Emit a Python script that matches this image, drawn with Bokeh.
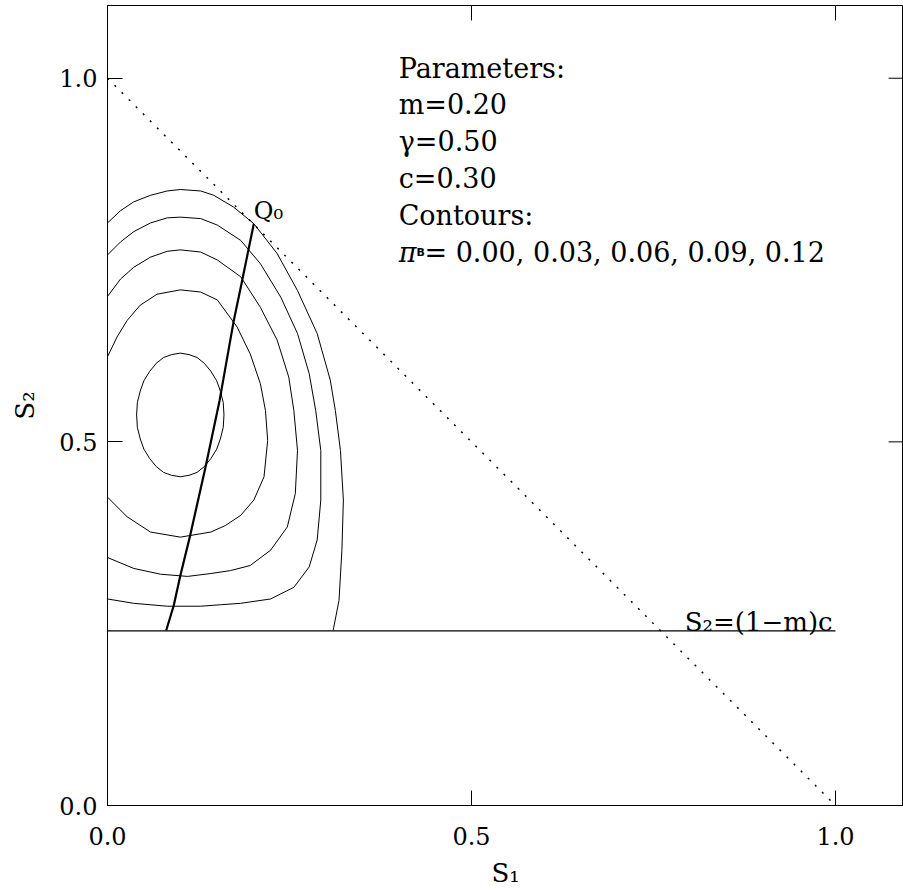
from bokeh.plotting import figure
from bokeh.models import Range1d, FixedTicker, PrintfTickFormatter
from bokeh.core.properties import value
from bokeh.embed import file_html
from bokeh.resources import INLINE

# ---------------- data ----------------
tick_values = [0.0, 0.5, 1.0]

# contour pi_B = 0.00 (outer, cut at S2 = 0.24)
c000_x = [0.000, 0.018, 0.036, 0.059, 0.082, 0.100, 0.128, 0.146, 0.173, 0.201,
          0.233, 0.261, 0.288, 0.306, 0.313, 0.320, 0.324, 0.322, 0.318, 0.310]
c000_y = [0.801, 0.818, 0.830, 0.839, 0.845, 0.847, 0.845, 0.839, 0.823, 0.800,
          0.759, 0.708, 0.649, 0.585, 0.543, 0.488, 0.420, 0.351, 0.282, 0.241]

# contour pi_B = 0.03
c003_x = [0.000, 0.018, 0.036, 0.059, 0.082, 0.100, 0.128, 0.151, 0.183, 0.210,
          0.238, 0.261, 0.277, 0.286, 0.293, 0.293, 0.288, 0.277, 0.256, 0.224,
          0.183, 0.155, 0.128, 0.082, 0.036, 0.000]
c003_y = [0.757, 0.775, 0.789, 0.801, 0.808, 0.809, 0.807, 0.798, 0.777, 0.745,
          0.699, 0.649, 0.594, 0.543, 0.488, 0.420, 0.365, 0.328, 0.300, 0.284,
          0.278, 0.276, 0.274, 0.274, 0.278, 0.284]

# contour pi_B = 0.06
c006_x = [0.000, 0.018, 0.036, 0.059, 0.082, 0.100, 0.128, 0.151, 0.183, 0.210,
          0.233, 0.249, 0.256, 0.261, 0.258, 0.247, 0.224, 0.196, 0.169, 0.142,
          0.110, 0.073, 0.036, 0.000]
c006_y = [0.700, 0.724, 0.740, 0.754, 0.762, 0.764, 0.761, 0.750, 0.727, 0.685,
          0.640, 0.589, 0.543, 0.488, 0.429, 0.383, 0.351, 0.330, 0.323, 0.319,
          0.315, 0.318, 0.326, 0.341]

# contour pi_B = 0.09
c009_x = [0.000, 0.013, 0.027, 0.045, 0.068, 0.100, 0.128, 0.151, 0.178, 0.196,
          0.210, 0.217, 0.220, 0.215, 0.201, 0.183, 0.162, 0.142, 0.100, 0.059,
          0.027, 0.000]
c009_y = [0.617, 0.644, 0.667, 0.688, 0.703, 0.709, 0.706, 0.695, 0.658, 0.621,
          0.580, 0.543, 0.502, 0.452, 0.420, 0.399, 0.385, 0.376, 0.369, 0.376,
          0.397, 0.424]

# contour pi_B = 0.12 (closed)
c012_x = [0.160, 0.159, 0.155, 0.150, 0.142, 0.133, 0.123, 0.112, 0.100, 0.088,
          0.077, 0.067, 0.058, 0.050, 0.045, 0.041, 0.040, 0.041, 0.045, 0.050,
          0.058, 0.067, 0.077, 0.088, 0.100, 0.112, 0.123, 0.133, 0.142, 0.150,
          0.155, 0.159, 0.160]
c012_y = [0.537, 0.554, 0.570, 0.584, 0.597, 0.608, 0.616, 0.620, 0.622, 0.620,
          0.616, 0.608, 0.597, 0.584, 0.570, 0.554, 0.537, 0.520, 0.504, 0.490,
          0.477, 0.466, 0.458, 0.454, 0.452, 0.454, 0.458, 0.466, 0.477, 0.490,
          0.504, 0.520, 0.537]

# Q0 curve
q0_x = [0.201, 0.194, 0.185, 0.1735, 0.154, 0.1346, 0.113, 0.100, 0.091, 0.0806]
q0_y = [0.800, 0.766, 0.722, 0.667, 0.557, 0.465, 0.369, 0.316, 0.275, 0.2407]

# S1 + S2 = 1 (dotted)
diag_x = [0.0, 1.0]
diag_y = [1.0, 0.0]

# S2 = (1-m)c
m_val, c_val = 0.20, 0.30
hline_x = [0.0, 1.0]
hline_y = [(1 - m_val) * c_val] * 2

param_lines = ["Parameters:", "m=0.20", "γ=0.50", "c=0.30", "Contours:"]
pi_levels = ["0.00", "0.03", "0.06", "0.09", "0.12"]

X_END, Y_END = 1.0934, 1.10
TICK = 0.0206   # inward tick length (15 px)

# ---------------- figure ----------------
FONT = "DejaVu Serif"
p = figure(width=903, height=894,
           x_range=Range1d(0, X_END), y_range=Range1d(0, Y_END),
           output_backend="svg", toolbar_location=None,
           min_border_left=107, min_border_right=0, min_border_top=5,
           min_border_bottom=89,
           x_axis_label="S₁", y_axis_label="S₂")
p.grid.visible = False
p.outline_line_color = "black"
p.outline_line_width = 1
p.background_fill_color = "white"
p.border_fill_color = "white"

for ax in [p.xaxis[0], p.yaxis[0]]:
    ax.ticker = FixedTicker(ticks=tick_values)
    ax.formatter = PrintfTickFormatter(format="%.1f")
    ax.major_tick_in = 15
    ax.major_tick_out = 0
    ax.minor_tick_line_color = None
    ax.axis_line_color = "black"
    ax.major_tick_line_color = "black"
    ax.major_label_text_font = FONT
    ax.major_label_text_font_size = "24px"
    ax.major_label_text_color = "black"
    ax.axis_label_text_font = FONT
    ax.axis_label_text_font_size = "26px"
    ax.axis_label_text_font_style = "normal"
    ax.axis_label_text_color = "black"

p.xaxis[0].major_label_standoff = 21
p.xaxis[0].axis_label_standoff = 10
p.yaxis[0].major_label_standoff = 10
p.yaxis[0].axis_label_standoff = 16

# inward ticks on the top and right edges of the box
p.segment(x0=tick_values, y0=[Y_END] * 3, x1=tick_values, y1=[Y_END - TICK] * 3,
          line_color="black", line_width=1)
p.segment(x0=[X_END] * 3, y0=tick_values, x1=[X_END - TICK] * 3, y1=tick_values,
          line_color="black", line_width=1)

# contours
for cx, cy in [(c000_x, c000_y), (c003_x, c003_y), (c006_x, c006_y),
               (c009_x, c009_y), (c012_x, c012_y)]:
    p.line(cx, cy, line_color="black", line_width=1)

p.line(q0_x, q0_y, line_color="black", line_width=2.2)
p.line(diag_x, diag_y, line_color="black", line_width=1.5, line_dash="2 8")
p.line(hline_x, hline_y, line_color="black", line_width=1.2)

# annotations
tx = 0.40
ty = [1.014 - 0.0507 * i for i in range(len(param_lines))]
p.text(x=[tx] * len(param_lines), y=ty, text=param_lines,
       text_font=value(FONT), text_font_size=value("27px"),
       text_baseline="alphabetic", text_align="left", text_color="black")
pi_y = 1.014 - 0.0507 * len(param_lines)
p.text(x=[tx], y=[pi_y], text=["π"], text_font=value(FONT),
       text_font_size=value("27px"), text_font_style="italic",
       text_baseline="alphabetic", text_color="black")
p.text(x=[0.4245], y=[pi_y], text=["B"], text_font=value("DejaVu Sans"),
       text_font_size=value("11px"), text_font_style="bold",
       text_baseline="alphabetic", text_color="black")
p.text(x=[0.4354], y=[pi_y], text=["= " + ", ".join(pi_levels)],
       text_font=value(FONT), text_font_size=value("27px"),
       text_baseline="alphabetic", text_color="black")

p.text(x=[q0_x[0]], y=[0.817], text=["Q₀"], text_font=value(FONT),
       text_font_size=value("24px"), text_baseline="alphabetic", text_color="black")
p.text(x=[0.996], y=[0.252], text=["S₂=(1−m)c"], text_font=value(FONT),
       text_font_size=value("26px"), text_baseline="alphabetic",
       text_align="right", text_color="black")

open("out.html", "w").write(file_html(p, INLINE))
